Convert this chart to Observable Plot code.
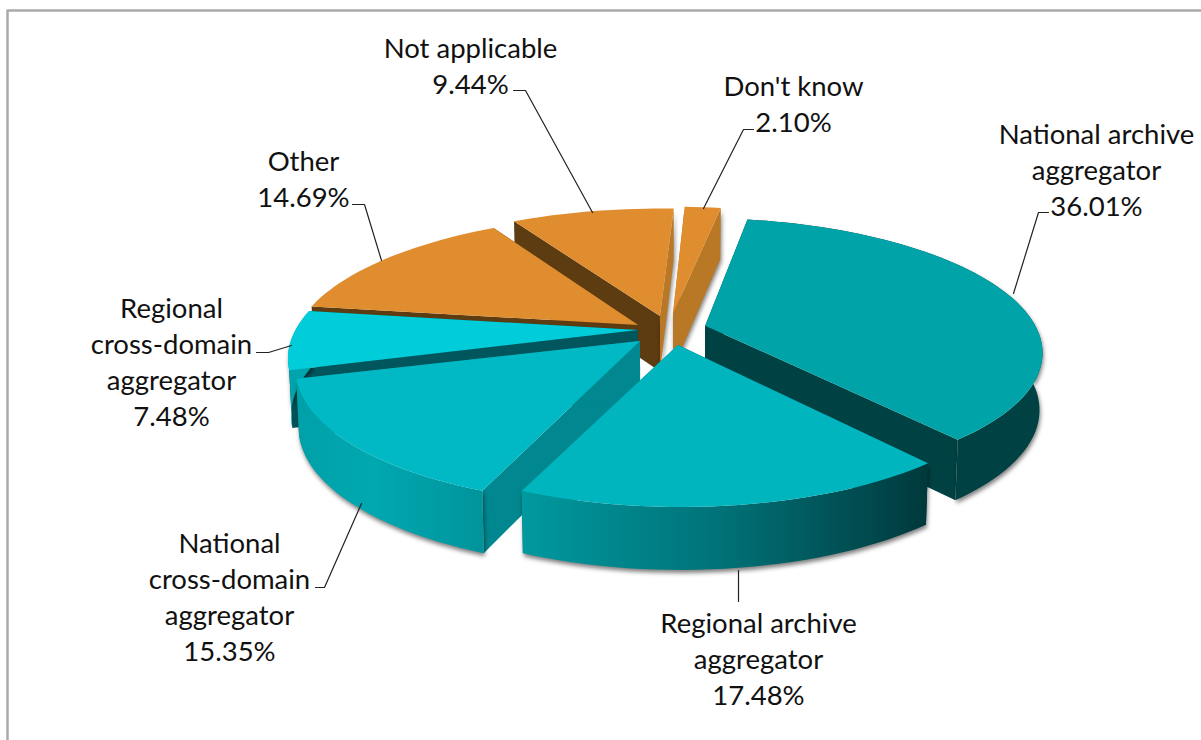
<!DOCTYPE html>
<html><head><meta charset="utf-8">
<script src="https://cdn.jsdelivr.net/npm/d3@7"></script>
<script src="https://cdn.jsdelivr.net/npm/@observablehq/plot@0.6"></script>
<style>
html,body{margin:0;padding:0;background:#fff}
svg{display:block}
g[aria-description="shadowed"]{filter:drop-shadow(1px 3px 2px rgba(0,0,0,.5))}
</style></head><body><div id="chart"></div>
<script>
const categories = ["National archive aggregator","Regional archive aggregator","National cross-domain aggregator","Regional cross-domain aggregator","Other","Not applicable","Don't know"];
const values = [36.01,17.48,15.35,7.48,14.69,9.44,2.10];
const labelLines = [
  ["National archive","aggregator"],["Regional archive","aggregator"],["National","cross-domain","aggregator"],
  ["Regional","cross-domain","aggregator"],["Other"],["Not applicable"],["Don't know"]];

// ---- styling / layout (not data) ----
const startDeg = 10, cx = 665, cy = 325, Rx = 340, Ry = 131, persp = 0.19, depth = 56, warpDeg = 6;
const explode = [[.118,-.005],[.037,-.149],[-.072,-.12],[-.079,-.038],[-.079,0],[-.015,.07],[.024,.09]];
const radius = [.97,.95,.97,1,1,1,1];
const startNudge = [0,0,-1.5,0,0,0,0], endNudge = [0,0,1,0,0,0,0]; // view distortion of the 3-D original
const topFill = ["#00a3a8","#00b5be","#00b9c4","#00cdd9","#e08d2f","#e08d2f","#e08d2f"];
const rimFill = ["#004244","url(#gRA)","url(#gNC)","#00a4ac",null,null,null];
const cutA = ["#004244","#004a4e","#00878f","#00565c","#5e3c12","#5e3c12","#b87826"]; // radial edge at first angle
const cutB = ["#004244","#00878f","#00878f","#00565c","#5e3c12","#b87826","#b87826"]; // radial edge at last angle
const drawOrder = [5,6,4,3,0,2,1];
const labelPos = [[1096,168],[758,657],[229,595],[171,360],[303,177],[470,64],[793,102]];
const leaders = [
  [[1048,212],[1038,212],[1013,293]],
  [[738,570],[738,601]],
  [[315,587],[324,587],[361,503]],
  [[256,352],[268,352],[291,345]],
  [[352,204],[364,204],[381,260]],
  [[513,90],[525,90],[592,212]],
  [[753,129],[743,129],[703,208]]];

const total = d3.sum(values);
const rad = d => d*Math.PI/180;
const warp = d => d + warpDeg*Math.pow((1-Math.cos(rad(d)))/2,3);
const project = (X,Y,bottom) => {
  const s = 1/(1+persp*Y);
  const x = cx + Rx*X*s, y = cy - Ry*Y*s;
  return bottom ? [cx+(x-cx)*0.992, y+depth*Math.sqrt(s)] : [x,y];
};
let acc = startDeg;
const slices = values.map((v,i)=>{
  const a0 = warp(acc)+startNudge[i], a1 = warp(acc + v/total*360)+endNudge[i]; acc += v/total*360;
  const [ex,ey] = explode[i], R = radius[i];
  const pt = (deg,r,b)=>project(ex+R*r*Math.sin(rad(deg)),ey+R*r*Math.cos(rad(deg)),b);
  const n = Math.max(2,Math.ceil((a1-a0)/2));
  const angles = d3.range(n+1).map(j=>a0+(a1-a0)*j/n);
  return {i,a0,a1,pt,angles};
});
const area = (rows,fill,desc) => Plot.area(rows,{x1:d=>d[0][0],y1:d=>d[0][1],x2:d=>d[1][0],y2:d=>d[1][1],fill,ariaDescription:desc});
const marks = [];
marks.push(()=>{
  const g = d3.create("svg:g"), defs = g.append("defs");
  const grad = (id,stops)=>{
    const l = defs.append("linearGradient").attr("id",id).attr("x1",0).attr("x2",1).attr("y1",0).attr("y2",0);
    stops.forEach(([o,c])=>l.append("stop").attr("offset",o).attr("stop-color",c));
  };
  grad("gRA",[[0,"#00999f"],[.5,"#007177"],[.85,"#004a4e"],[1,"#00383b"]]);
  grad("gNC",[[0,"#00a0a8"],[.4,"#00a8b0"],[1,"#00949c"]]);
  return g.node();
});
marks.push(Plot.line([[1201,10],[7,10],[7,740]],{stroke:"#aaa",strokeWidth:2.5}));
for (const i of drawOrder){
  const s = slices[i];
  const far = !rimFill[i]; // the rim of the far slices is out of sight; their cut faces cast the shadow
  const face = (deg,fill,desc)=>area([[s.pt(deg,0,false),s.pt(deg,0,true)],[s.pt(deg,1,false),s.pt(deg,1,true)]],fill,desc);
  marks.push(face(s.a0,cutA[i]));
  marks.push(face(s.a1,cutB[i],far && i!==4 ? "shadowed" : undefined));
  if (!far) marks.push(area(s.angles.map(a=>[s.pt(a,1,false),s.pt(a,1,true)]),rimFill[i],"shadowed"));
  marks.push(area(s.angles.map(a=>[s.pt(a,1,false),s.pt(a,0,false)]),topFill[i]));
}
leaders.forEach(l=>marks.push(Plot.line(l,{stroke:"#222",strokeWidth:1.2})));
const table = categories.map((c,i)=>({text:[...labelLines[i],values[i].toFixed(2)+"%"].join("\n"),pos:labelPos[i]}));
marks.push(Plot.text(table,{x:d=>d.pos[0],y:d=>d.pos[1],text:"text",lineAnchor:"middle",textAnchor:"middle",lineHeight:1.3,fontSize:27.5,fill:"#111"}));

document.getElementById("chart").append(Plot.plot({
  width:1201,height:740,margin:0,
  x:{domain:[0,1201],range:[0,1201],axis:null},
  y:{domain:[0,740],range:[0,740],axis:null},
  style:{fontFamily:"Lato, sans-serif",background:"#fff"},
  marks
}));
</script></body></html>
